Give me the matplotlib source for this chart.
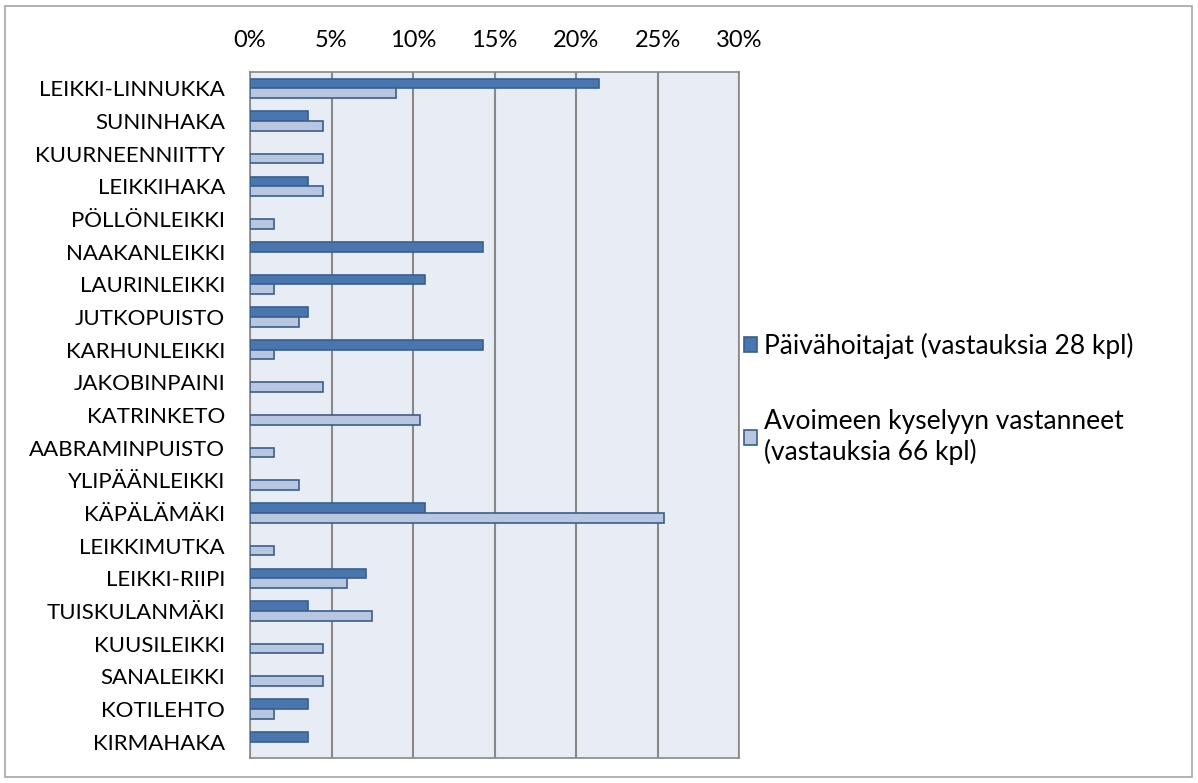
import numpy as np
import matplotlib
matplotlib.use('Agg')
import matplotlib.pyplot as plt
from matplotlib.patches import Rectangle

plt.rcParams['font.family'] = ['Lato', 'DejaVu Sans']

categories = ['LEIKKI-LINNUKKA', 'SUNINHAKA', 'KUURNEENNIITTY', 'LEIKKIHAKA',
              'PÖLLÖNLEIKKI', 'NAAKANLEIKKI', 'LAURINLEIKKI', 'JUTKOPUISTO',
              'KARHUNLEIKKI', 'JAKOBINPAINI', 'KATRINKETO', 'AABRAMINPUISTO',
              'YLIPÄÄNLEIKKI', 'KÄPÄLÄMÄKI', 'LEIKKIMUTKA', 'LEIKKI-RIIPI',
              'TUISKULANMÄKI', 'KUUSILEIKKI', 'SANALEIKKI', 'KOTILEHTO', 'KIRMAHAKA']
# shares in percent
paivahoitajat = [21.43, 3.57, 0, 3.57, 0, 14.29, 10.71, 3.57, 14.29, 0, 0, 0,
                 0, 10.71, 0, 7.14, 3.57, 0, 0, 3.57, 3.57]
avoin = [8.96, 4.48, 4.48, 4.48, 1.49, 0, 1.49, 2.99, 1.49, 4.48, 10.45, 1.49,
         2.99, 25.37, 1.49, 5.97, 7.46, 4.48, 4.48, 1.49, 0]
labels = ['Päivähoitajat (vastauksia 28 kpl)',
          'Avoimeen kyselyyn vastanneet\n(vastauksia 66 kpl)']

dark = '#4A76B0'
light = '#B8C6E0'
edge = '#3A5F8F'

fig = plt.figure(figsize=(11.98, 7.83), dpi=100)
fig.patches.append(Rectangle((5 / 1198, 6 / 783), 1187 / 1198, 771 / 783,
                             transform=fig.transFigure, fill=False,
                             edgecolor='#A6A6A6', lw=1.2))
ax = fig.add_axes([250 / 1198, 1 - 758 / 783, 489 / 1198, 686 / 783])
ax.set_facecolor('#E8ECF4')

y = np.arange(len(categories))
h = 0.3
p = np.array(paivahoitajat)
a = np.array(avoin)
ax.barh((y - h / 2)[p > 0], p[p > 0], h, color=dark, edgecolor=edge, lw=1.2,
        label=labels[0], zorder=3)
ax.barh((y + h / 2)[a > 0], a[a > 0], h, color=light, edgecolor=edge, lw=1.2,
        label=labels[1], zorder=3)

ax.set_xlim(0, 30)
ax.set_ylim(len(categories) - 0.5, -0.5)
ax.set_xticks(np.arange(0, 31, 5))
ax.set_xticklabels([f'{v}%' for v in range(0, 31, 5)])
ax.xaxis.tick_top()
ax.tick_params(axis='x', length=0, pad=15, labelsize=17)
ax.set_yticks(y)
ax.set_yticklabels(categories)
ax.tick_params(axis='y', length=0, pad=18, labelsize=16)
ax.grid(axis='x', color='#888888', lw=1.5, zorder=1)
for s in ax.spines.values():
    s.set_color('#888888')
    s.set_linewidth(1.2)

ax.legend(loc='upper left', bbox_to_anchor=(744 / 1198, 1 - 333 / 783),
          bbox_transform=fig.transFigure, frameon=False, fontsize=19,
          handlelength=0.5, handleheight=0.5, handletextpad=0.25,
          labelspacing=1.9, borderaxespad=0, borderpad=0)

plt.savefig('out.png', dpi=100)
